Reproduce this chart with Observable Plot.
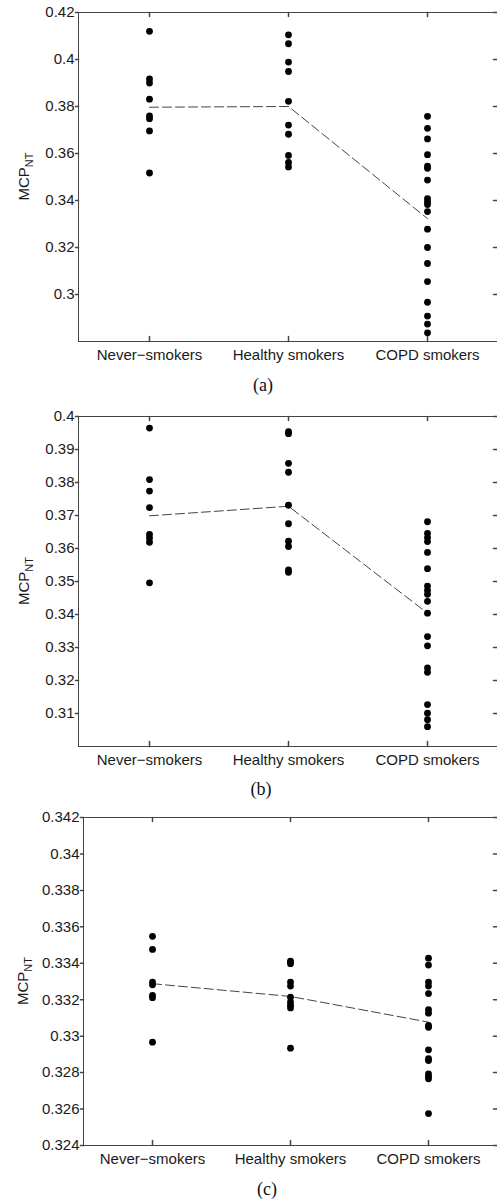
<!DOCTYPE html>
<html><head><meta charset="utf-8">
<script src="https://cdn.jsdelivr.net/npm/d3@7"></script>
<script src="https://cdn.jsdelivr.net/npm/@observablehq/plot@0.6"></script>
<style>
html,body{margin:0;padding:0;background:#fff;overflow:hidden;}
#root{position:relative;width:497px;height:1203px;overflow:hidden;background:#fff;}
.panel{position:absolute;left:0;}
.panel svg{display:block;}
.cap{position:absolute;font-family:"Liberation Serif","Times New Roman",serif;font-size:18px;line-height:1;color:#111;transform:translateX(-50%);white-space:nowrap;}
</style></head><body><div id="root"></div><script>
const categories = ["Never\u2212smokers", "Healthy smokers", "COPD smokers"];

// Panel (a)
const aNever = [0.4120, 0.3917, 0.3900, 0.3831, 0.3760, 0.3748, 0.3696, 0.3517];
const aHealthy = [0.4105, 0.4067, 0.3989, 0.3949, 0.3822, 0.3721, 0.3682, 0.3592, 0.3562, 0.3543];
const aCOPD = [0.3758, 0.3707, 0.3662, 0.3595, 0.3546, 0.3537, 0.3487, 0.3408, 0.3396, 0.3383, 0.3353, 0.3278, 0.3200, 0.3132, 0.3055, 0.2967, 0.2908, 0.2874, 0.2837];
const aMeans = [0.3797, 0.3800, 0.3323];
const aTicks = [0.30, 0.32, 0.34, 0.36, 0.38, 0.40, 0.42];

// Panel (b)
const bNever = [0.3965, 0.3809, 0.3774, 0.3724, 0.3643, 0.3632, 0.3619, 0.3496];
const bHealthy = [0.3954, 0.3948, 0.3858, 0.3831, 0.3731, 0.3675, 0.3622, 0.3606, 0.3535, 0.3528];
const bCOPD = [0.3681, 0.3646, 0.3633, 0.3621, 0.3588, 0.3539, 0.3486, 0.3473, 0.3461, 0.3440, 0.3404, 0.3333, 0.3305, 0.3238, 0.3225, 0.3127, 0.3101, 0.3081, 0.3060];
const bMeans = [0.3699, 0.3728, 0.3404];
const bTicks = [0.31, 0.32, 0.33, 0.34, 0.35, 0.36, 0.37, 0.38, 0.39, 0.40];

// Panel (c)
const cNever = [0.33548, 0.33476, 0.33297, 0.33282, 0.33224, 0.33211, 0.32967];
const cHealthy = [0.33412, 0.33405, 0.33398, 0.33297, 0.33275, 0.33214, 0.33187, 0.33170, 0.33155, 0.32934];
const cCOPD = [0.33428, 0.33390, 0.33297, 0.33275, 0.33234, 0.33145, 0.33126, 0.33059, 0.33049, 0.32925, 0.32876, 0.32866, 0.32793, 0.32778, 0.32766, 0.32575];
const cMeans = [0.33288, 0.33218, 0.33077];
const cTicks = [0.324, 0.326, 0.328, 0.330, 0.332, 0.334, 0.336, 0.338, 0.340, 0.342];

const yLabel = "MCP", yLabelSub = "NT";
const captions = ["(a)", "(b)", "(c)"];

const panels = [
  {groups: [aNever, aHealthy, aCOPD], means: aMeans, ticks: aTicks, domain: [0.28, 0.42],
   top: 0, height: 370, mt: 12, mb: 29, ml: 78, labelX: 29, capX: 263, capY: 376},
  {groups: [bNever, bHealthy, bCOPD], means: bMeans, ticks: bTicks, domain: [0.30, 0.40],
   top: 400, height: 370, mt: 16, mb: 24, ml: 78, labelX: 29, capX: 261, capY: 780},
  {groups: [cNever, cHealthy, cCOPD], means: cMeans, ticks: cTicks, domain: [0.324, 0.342],
   top: 800, height: 375, mt: 17, mb: 30, ml: 83, labelX: 28, capX: 267, capY: 1180}
];

const root = document.getElementById("root");
const tickShape = {draw(ctx, l) { ctx.moveTo(0, 0); ctx.lineTo(0, -l); }};
const axisColor = "#444";

panels.forEach((p, k) => {
  const rows = categories.flatMap((c, i) => p.groups[i].map(v => ({cat: c, v})));
  const meanRows = categories.map((c, i) => ({cat: c, v: p.means[i]}));
  const svg = Plot.plot({
    width: 497, height: p.height,
    marginTop: p.mt, marginBottom: p.mb, marginLeft: p.ml, marginRight: 0,
    style: {fontFamily: "'Liberation Sans', Arial, Helvetica, sans-serif", fontSize: "15px", color: "#1a1a1a", background: "transparent"},
    x: {type: "point", domain: categories, padding: 0.5, label: null},
    y: {domain: p.domain, label: null},
    marks: [
      Plot.frame({anchor: "left", stroke: axisColor}),
      Plot.frame({anchor: "top", stroke: axisColor}),
      Plot.frame({anchor: "bottom", stroke: axisColor}),
      Plot.vector(p.ticks, {y: d => d, frameAnchor: "left", length: 3, rotate: -90, anchor: "start", shape: tickShape, stroke: axisColor}),
      Plot.vector(p.ticks, {y: d => d, frameAnchor: "right", length: 4, rotate: -90, anchor: "start", shape: tickShape, stroke: axisColor}),
      Plot.vector(categories, {x: d => d, frameAnchor: "top", length: 4, rotate: 180, anchor: "start", shape: tickShape, stroke: axisColor}),
      Plot.vector(categories, {x: d => d, frameAnchor: "bottom", length: 5, rotate: 0, anchor: "start", shape: tickShape, stroke: axisColor}),
      Plot.axisY({ticks: p.ticks, tickSize: 0, tickPadding: 4, fontSize: 15, tickFormat: d => String(+d.toFixed(3)), label: null}),
      Plot.axisX({tickSize: 0, tickPadding: 8, fontSize: 15, label: null}),
      Plot.line(meanRows, {x: "cat", y: "v", stroke: "#444", strokeWidth: 1, strokeDasharray: "9,4"}),
      Plot.dot(rows, {x: "cat", y: "v", r: 3.4, fill: "black", stroke: "none"})
    ]
  });
  const cy = p.mt + (p.height - p.mt - p.mb) / 2;
  const t = d3.select(svg).append("text")
    .attr("transform", `translate(${p.labelX},${cy}) rotate(-90)`)
    .attr("text-anchor", "middle")
    .attr("fill", "#1a1a1a")
    .style("font-family", "'Liberation Sans', Arial, Helvetica, sans-serif")
    .style("font-size", "15px");
  t.append("tspan").text(yLabel);
  t.append("tspan").attr("dy", 4).style("font-size", "11px").text(yLabelSub);
  const wrap = document.createElement("div");
  wrap.className = "panel";
  wrap.style.top = p.top + "px";
  wrap.appendChild(svg);
  root.appendChild(wrap);
});

panels.forEach((p, k) => {
  const c = document.createElement("div");
  c.className = "cap";
  c.style.left = p.capX + "px";
  c.style.top = p.capY + "px";
  c.textContent = captions[k];
  root.appendChild(c);
});
</script></body></html>
